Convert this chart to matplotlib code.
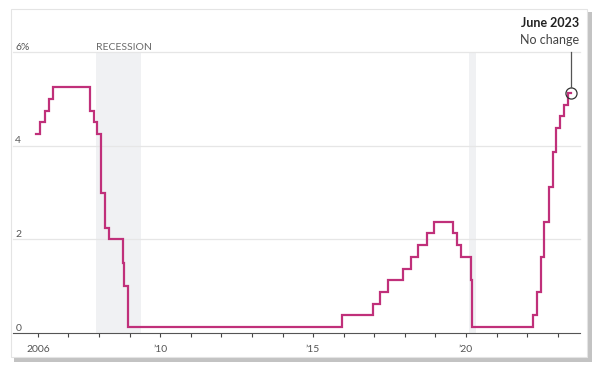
import matplotlib
matplotlib.use("Agg")
import matplotlib.pyplot as plt
from matplotlib.patches import Rectangle
import pandas as pd

plt.rcParams['font.family'] = ['Lato', 'DejaVu Sans']

# Fed funds target (midpoint of range after Dec 2008), change dates
dates = ["2005-12-13", "2006-01-31", "2006-03-28", "2006-05-10", "2006-06-29",
         "2007-09-18", "2007-10-31", "2007-12-11", "2008-01-22", "2008-01-30",
         "2008-03-18", "2008-04-30", "2008-10-08", "2008-10-29", "2008-12-16",
         "2015-12-16", "2016-12-14", "2017-03-15", "2017-06-14", "2017-12-13",
         "2018-03-21", "2018-06-13", "2018-09-26", "2018-12-19", "2019-07-31",
         "2019-09-18", "2019-10-30", "2020-03-03", "2020-03-15", "2022-03-16",
         "2022-05-04", "2022-06-15", "2022-07-27", "2022-09-21", "2022-11-02",
         "2022-12-14", "2023-02-01", "2023-03-22", "2023-05-03", "2023-06-14"]
rates = [4.25, 4.5, 4.75, 5.0, 5.25,
         4.75, 4.5, 4.25, 3.5, 3.0,
         2.25, 2.0, 1.5, 1.0, 0.125,
         0.375, 0.625, 0.875, 1.125, 1.375,
         1.625, 1.875, 2.125, 2.375, 2.125,
         1.875, 1.625, 1.125, 0.125, 0.375,
         0.875, 1.625, 2.375, 3.125, 3.875,
         4.375, 4.625, 4.875, 5.125, 5.125]

recessions = [("2007-12-01", "2009-05-15"), ("2020-02-01", "2020-04-30")]
ytick_vals = [0, 2, 4, 6]
ytick_labels = ["0", "2", "4", "6%"]
xlabel_years = {2006: "2006", 2010: "\u201910", 2015: "\u201915", 2020: "\u201920"}

x = pd.to_datetime(dates)

fig = plt.figure(figsize=(5.97, 3.68), dpi=100)
fig.patch.set_facecolor("white")

# card with shadow
fig.patches.append(Rectangle((14 / 597, 1 - 362 / 368), 578 / 597, 350 / 368,
                             transform=fig.transFigure, facecolor="#b5b5b5",
                             edgecolor="none", zorder=0, alpha=0.8))
fig.patches.append(Rectangle((11 / 597, 1 - 357 / 368), 576 / 597, 348 / 368,
                             transform=fig.transFigure, facecolor="white",
                             edgecolor="#e4e4e4", linewidth=0.8, zorder=1))

ax = fig.add_axes([13 / 597, 35 / 368, 567 / 597, 281 / 368])
ax.set_facecolor("none")
ax.set_zorder(2)

for s, e in recessions:
    ax.axvspan(pd.Timestamp(s), pd.Timestamp(e), ymin=0, ymax=1,
               color="#f0f1f3", lw=0, zorder=0)
ax.text(pd.Timestamp("2007-12-01"), 6.05, "RECESSION", fontsize=7.5,
        color="#6b6b6b", ha="left", va="baseline")

for v in [2, 4, 6]:
    ax.axhline(v, color="#e6e6e6", lw=0.9, zorder=1)
for v, lab in zip(ytick_vals, ytick_labels):
    ax.text(0.004, v + 0.05, lab, transform=ax.get_yaxis_transform(),
            fontsize=7.5, color="#555555", ha="left", va="baseline")

ax.step(x, rates, where="post", color="#c0307a", lw=1.6, zorder=3,
        solid_joinstyle="miter")

last_x, last_y = x[-1], rates[-1]
ax.plot([last_x], [last_y], marker="o", ms=8, mfc="none", mec="#333333",
        mew=0.9, zorder=4)
ax.plot([last_x, last_x], [last_y + 0.13, 6.0], color="#555555", lw=0.9,
        zorder=4)
ax.text(pd.Timestamp("2023-09-15"), 6.12, "No change", fontsize=9,
        color="#444444", ha="right", va="bottom")
ax.text(pd.Timestamp("2023-09-15"), 6.5, "June 2023", fontsize=9,
        fontweight="bold", color="#222222", ha="right", va="bottom")

ax.set_ylim(0, 6)
ax.set_xlim(pd.Timestamp("2005-03-10"), pd.Timestamp("2023-09-24"))
ax.set_yticks([])

years = list(range(2006, 2024))
ax.set_xticks([pd.Timestamp(f"{y}-01-01") for y in years])
ax.set_xticklabels([xlabel_years.get(y, "") for y in years], fontsize=7.5,
                   color="#555555")
ax.tick_params(axis="x", length=3, width=0.8, color="#444444", pad=6)
for spine in ["top", "right", "left"]:
    ax.spines[spine].set_visible(False)
ax.spines["bottom"].set_color("#555555")
ax.spines["bottom"].set_linewidth(0.8)
for ln in ax.lines:
    ln.set_clip_on(False)

fig.savefig("out.png", dpi=100)
